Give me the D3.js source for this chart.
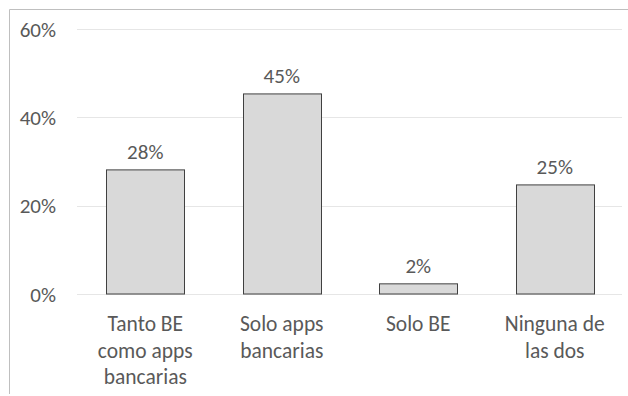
<!DOCTYPE html>
<html><head><meta charset="utf-8">
<script src="https://cdn.jsdelivr.net/npm/d3@7"></script>
<style>body{margin:0;background:#fff;} svg{display:block;}</style>
</head><body>
<svg id="c" width="628" height="396"></svg>
<script>
const categories = [["Tanto BE","como apps","bancarias"],["Solo apps","bancarias"],["Solo BE"],["Ninguna de","las dos"]];
const values = [0.281, 0.453, 0.023, 0.247];
const valueLabels = ["28%","45%","2%","25%"];
const yTicks = [0, 0.2, 0.4, 0.6];
const yTickLabels = ["0%","20%","40%","60%"];

(function(){
const svg = d3.select("#c");
const font = "Carlito, Calibri, Lato, sans-serif";
const textColor = "#595959";
const pL = 77, pR = 623, pT = 29, pB = 294;

// outer frame (partial, as in reference)
svg.append("line").attr("x1",9.5).attr("x2",628).attr("y1",9.5).attr("y2",9.5).attr("stroke","#bfbfbf");
svg.append("line").attr("x1",9.5).attr("x2",9.5).attr("y1",9.5).attr("y2",394).attr("stroke","#bfbfbf");

const x = d3.scaleBand().domain(d3.range(values.length)).range([pL, pR]).paddingInner(0.43).paddingOuter(0.215);
const y = d3.scaleLinear().domain([0, 0.6]).range([pB, pT]);

// gridlines
svg.append("g").selectAll("line").data(yTicks).join("line")
  .attr("x1", pL).attr("x2", pR - 1)
  .attr("y1", d => Math.round(y(d)) + 0.5).attr("y2", d => Math.round(y(d)) + 0.5)
  .attr("stroke", "#e6e6e6").attr("stroke-width", 1);

// y axis labels
const yAxis = d3.axisLeft(y).tickValues(yTicks).tickFormat((d,i) => yTickLabels[i]).tickSize(0).tickPadding(21);
const ga = svg.append("g").attr("transform", `translate(${pL},0)`).call(yAxis);
ga.select(".domain").remove();
ga.selectAll("text").attr("font-family", font).attr("font-size", 21).attr("fill", textColor).attr("dy", "0.34em");

// bars
svg.append("g").selectAll("rect").data(values).join("rect")
  .attr("x", (d,i) => Math.round(x(i)) + 0.5)
  .attr("y", d => y(d))
  .attr("width", Math.round(x.bandwidth()))
  .attr("height", d => pB - y(d))
  .attr("fill", "#d9d9d9").attr("stroke", "#404040").attr("stroke-width", 1);

// value labels
svg.append("g").selectAll("text").data(values).join("text")
  .attr("x", (d,i) => x(i) + x.bandwidth()/2)
  .attr("y", d => y(d) - 11)
  .attr("text-anchor", "middle")
  .attr("font-family", font).attr("font-size", 21).attr("fill", textColor)
  .text((d,i) => valueLabels[i]);

// category labels
const cg = svg.append("g").selectAll("text").data(categories).join("text")
  .attr("text-anchor", "middle")
  .attr("font-family", font).attr("font-size", 21.5).attr("fill", textColor);
cg.each(function(lines, i) {
  const t = d3.select(this);
  lines.forEach((l, k) => {
    t.append("tspan").attr("x", x(i) + x.bandwidth()/2).attr("y", 331 + k*26.5).text(l);
  });
});
})();
</script>
</body></html>
